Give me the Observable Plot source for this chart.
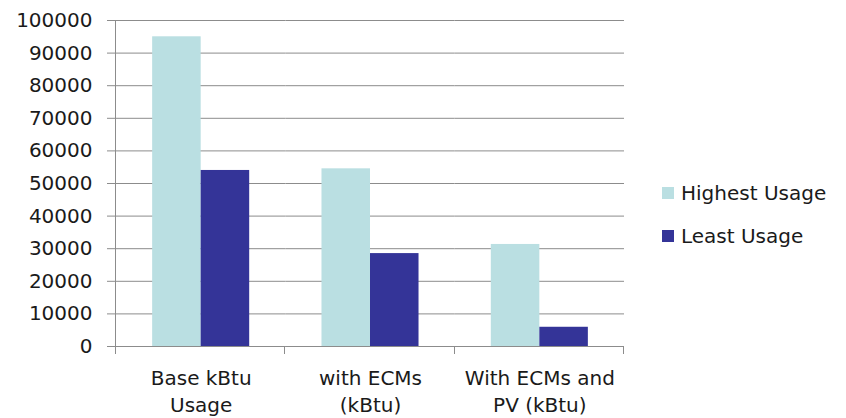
<!DOCTYPE html>
<html><head><meta charset="utf-8">
<script src="https://cdn.jsdelivr.net/npm/d3@7"></script>
<script src="https://cdn.jsdelivr.net/npm/@observablehq/plot@0.6"></script>
<style>
body{margin:0;background:#fff}
#wrap{position:relative;width:846px;height:418px;font-family:"DejaVu Sans",sans-serif}
.legend{position:absolute;left:662px;top:182px;font-size:20px;color:#1a1a1a}
.legend div{display:flex;align-items:center;height:21px;margin-bottom:22px;white-space:nowrap}
.legend span.sw{display:inline-block;width:12px;height:12px;margin-right:7px}
</style></head>
<body><div id="wrap"></div>
<script>
const categories = ["Base kBtu\nUsage", "with ECMs\n(kBtu)", "With ECMs and\nPV (kBtu)"];
const series = ["Highest Usage", "Least Usage"];
const highest = [95000, 54500, 31300];
const least = [54000, 28500, 5900];
const yTicks = [0, 10000, 20000, 30000, 40000, 50000, 60000, 70000, 80000, 90000, 100000];
const colors = ["#badfe2", "#343498"];

const data = [];
categories.forEach((c, i) => {
  data.push({category: c, series: series[0], value: highest[i]});
  data.push({category: c, series: series[1], value: least[i]});
});

const gray = "#8c8c8c";

// Axis line and category boundary ticks, drawn once (in the first facet, whose offset is zero)
let axisDrawn = false;
const axisLines = (index, scales, values, dims) => {
  const g = d3.create("svg:g").attr("stroke", gray).attr("stroke-width", 1);
  if (axisDrawn) return g.node();
  axisDrawn = true;
  const fx = scales.fx;
  const y0 = scales.y(0), y1 = scales.y(100000);
  const left = Math.round(fx(categories[0]));
  g.append("line").attr("x1", left - 0.5).attr("x2", left - 0.5).attr("y1", y1).attr("y2", y0 + 8);
  categories.forEach(c => {
    const xr = Math.round(fx(c) + fx.bandwidth());
    g.append("line").attr("x1", xr - 0.5).attr("x2", xr - 0.5).attr("y1", y0).attr("y2", y0 + 8);
  });
  return g.node();
};

const chart = Plot.plot({
  width: 846, height: 418,
  marginLeft: 116, marginRight: 222, marginTop: 20, marginBottom: 72,
  style: {fontFamily: "DejaVu Sans", fontSize: "20px", background: "white", color: "#1a1a1a"},
  fx: {domain: categories, padding: 0, round: false, label: null},
  x: {domain: series, paddingInner: 0, paddingOuter: 0.745, round: false, axis: null},
  y: {domain: [0, 100000], label: null},
  color: {domain: series, range: colors},
  marks: [
    Plot.gridY(yTicks, {stroke: gray, strokeOpacity: 1}),
    Plot.axisY(yTicks, {tickSize: 9, stroke: gray, strokeOpacity: 1, tickPadding: 15, tickFormat: d => String(d), fill: "#1a1a1a", fontSize: 20, label: null}),
    Plot.barY(data, {fx: "category", x: "series", y: "value", fill: "series"}),
    Plot.ruleY([0], {stroke: gray}),
    Plot.axisFx({anchor: "bottom", tickSize: 0, tickPadding: 19, label: null, fontSize: 20, lineHeight: 1.35, fill: "#1a1a1a"}),
    axisLines
  ]
});

const wrap = document.getElementById("wrap");
wrap.appendChild(chart);
const leg = document.createElement("div");
leg.className = "legend";
series.forEach((s, i) => {
  const row = document.createElement("div");
  const sw = document.createElement("span");
  sw.className = "sw"; sw.style.background = colors[i];
  row.appendChild(sw);
  row.appendChild(document.createTextNode(s));
  leg.appendChild(row);
});
wrap.appendChild(leg);
</script>
</body></html>
